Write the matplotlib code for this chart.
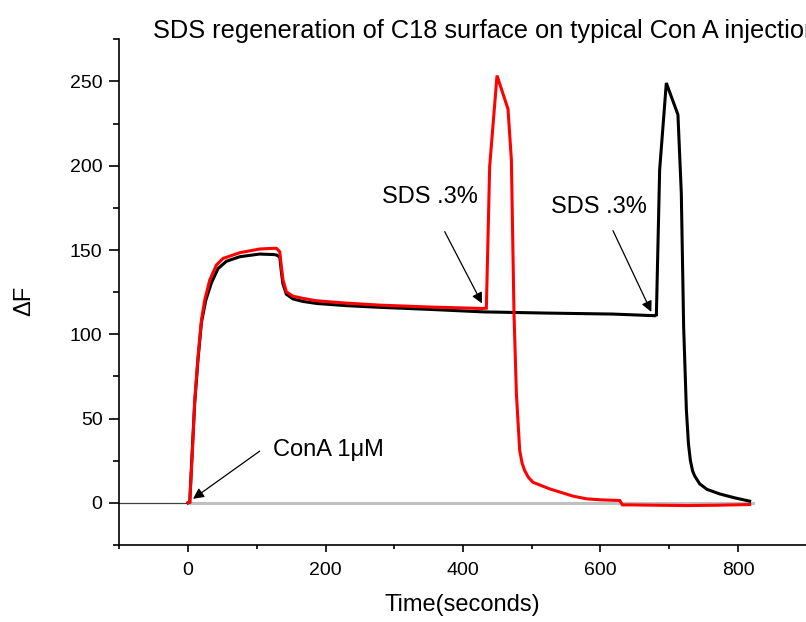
import matplotlib

matplotlib.use("Agg")
import matplotlib.pyplot as plt
from matplotlib.ticker import MultipleLocator

plt.rcParams["font.family"] = ["Liberation Sans", "DejaVu Sans"]

# Black trace (second injection, SDS at ~680 s)
t_black = [0, 2.5, 6, 9.7, 14.5, 19.5, 25.7, 34, 43.7, 55.8, 75, 104, 125, 129, 133.5,
           135.8, 138, 143, 152.7, 167, 187, 230, 279, 350, 429, 520, 618, 681,
           681.3, 686.1, 695.8, 712.7, 717.6, 721, 725, 728, 730.8, 734, 737, 744.3, 755,
           773.4, 795, 817]
y_black = [0, 0.4, 30, 59, 85, 107, 120, 130.5, 139, 143.3, 146, 147.6, 147.3, 147, 145.7,
           137, 130, 123.8, 121, 119.5, 118.3, 117, 116, 114.8, 113.3, 112.6, 112, 111,
           110.8, 197.6, 249.1, 230.3, 183.7, 104.4, 54.9, 35, 25.1, 19, 16, 11.3, 8,
           5.3, 3, 1]

# Red trace (first injection, SDS at ~434 s)
t_red = [0, 2.5, 6.4, 9.7, 14.5, 19.5, 24.3, 31.6, 41.3, 51, 75.2, 104.3, 124, 128.6,
         133.4, 135.8, 138.2, 143.1, 152.7, 167.3, 186.8, 230, 279, 350, 429, 434,
         438.8, 449.5, 465.5, 470.4, 474.2, 477.7, 482.5, 486, 489.7, 495, 501.8, 526, 560,
         579.5, 600, 628, 632, 643, 680, 725, 770, 817]
y_red = [0, 0.4, 31, 60.8, 86.6, 108.4, 120.3, 132.2, 141.1, 145, 148.4, 150.6, 151, 151,
         149, 140, 132.2, 125.2, 122.6, 121.3, 119.9, 118.5, 117.3, 116.2, 115.3, 115.5,
         199.5, 253.5, 233.6, 203.5, 112.4, 64.8, 31, 23.5, 19.2, 15.2, 12.2, 8.3, 4,
         2.4, 1.8, 1.4, -1.2, -1.2, -1.4, -1.6, -1.4, -1.0]

# zero baseline
t_base_pre = [-100, 0]
t_base = [0, 822]
y_zero = [0, 0]

fig = plt.figure(figsize=(8.06, 6.22), dpi=100)
ax = fig.add_axes([0.148, 0.1238, 0.852, 0.813])

ax.plot(t_base_pre, y_zero, color="#404040", lw=0.9)
ax.plot(t_base, y_zero, color="#c0c0c0", lw=2.2)
ax.plot(t_black, y_black, color="black", lw=2.2, solid_joinstyle="miter")
ax.plot(t_red, y_red, color="red", lw=2.2, solid_joinstyle="miter")

ax.set_xlim(-100, 899)
ax.set_ylim(-25, 275)
ax.spines["top"].set_visible(False)
ax.spines["right"].set_visible(False)
for s in ["left", "bottom"]:
    ax.spines[s].set_linewidth(1.2)

ax.xaxis.set_major_locator(MultipleLocator(200))
ax.xaxis.set_minor_locator(MultipleLocator(100))
ax.yaxis.set_major_locator(MultipleLocator(50))
ax.yaxis.set_minor_locator(MultipleLocator(25))
ax.tick_params(axis="both", which="both", direction="out", width=1.2, labelsize=14)
ax.tick_params(axis="y", which="major", length=7, pad=5)
ax.tick_params(axis="y", which="minor", length=4)
ax.tick_params(axis="x", which="major", length=5, pad=7)
ax.tick_params(axis="x", which="minor", length=3)

ax.text(0.499, -0.119, "Time(seconds)", transform=ax.transAxes, fontsize=17,
        ha="center", va="center")
ax.text(-0.138, 0.483, "\u0394F", transform=ax.transAxes, fontsize=17,
        ha="center", va="center", rotation=90)

fig.text(153 / 806, 1 - 38 / 622, "SDS regeneration of C18 surface on typical Con A injection",
         fontsize=18.3, ha="left", va="baseline")

# annotations
arrow = dict(arrowstyle="-|>", color="black", lw=0.9, mutation_scale=16, shrinkA=0, shrinkB=0)
ax.annotate("", xy=(7.3, 2.4), xytext=(104.3, 30.7), arrowprops=arrow)
ax.text(123.6, 31.1, "ConA 1\u03bcM", fontsize=17, ha="left", va="center")

ax.annotate("", xy=(427.7, 118.3), xytext=(373.4, 160.9), arrowprops=arrow)
ax.text(352.3, 181.7, "SDS .3%", fontsize=17, ha="center", va="center")

ax.annotate("", xy=(674, 113.3), xytext=(618.2, 161.5), arrowprops=arrow)
ax.text(598.4, 175.4, "SDS .3%", fontsize=17, ha="center", va="center")

fig.savefig("out.png", dpi=100)
